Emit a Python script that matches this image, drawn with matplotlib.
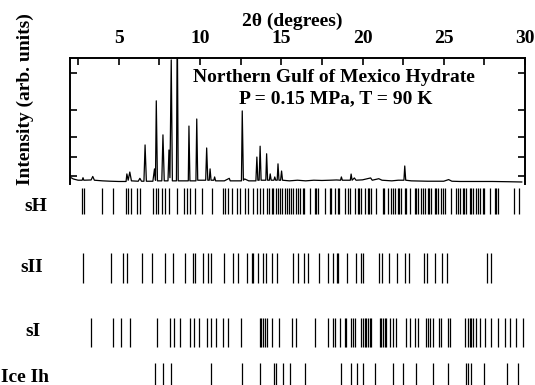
import matplotlib
matplotlib.use("Agg")
import matplotlib.pyplot as plt

plt.rcParams['font.family'] = ['Liberation Serif', 'DejaVu Serif']
plt.rcParams['font.weight'] = 'bold'

W, H = 535, 385

# measured pattern (2theta in degrees, intensity in arb. units)
two_theta = [2.0, 2.2, 2.5, 2.75, 2.8, 2.85, 3.3, 3.4, 3.5, 4.0, 4.5, 5.0,
             5.45, 5.5, 5.58, 5.68, 5.78, 6.2, 6.3, 6.4, 6.55, 6.62, 6.7,
             7.1, 7.2, 7.26, 7.31, 7.38, 7.65, 7.72, 7.8, 8.03, 8.09, 8.15,
             8.23, 8.3, 8.55, 8.6, 8.66, 8.9, 9.28, 9.32, 9.38, 9.75, 9.8,
             9.86, 10.35, 10.41, 10.48, 10.57, 10.62, 10.68, 10.85, 10.9,
             10.96, 11.5, 11.8, 11.86, 12.55, 12.6, 12.67, 12.75, 13.0,
             13.44, 13.5, 13.56, 13.64, 13.7, 13.76, 14.05, 14.1, 14.16,
             14.27, 14.32, 14.38, 14.55, 14.6, 14.66, 14.75, 14.8, 14.86,
             14.96, 15.02, 15.08, 15.5, 16.0, 16.5, 17.0, 17.5, 18.0, 18.4,
             18.65, 18.7, 18.76, 19.25, 19.3, 19.36, 19.5, 19.6, 20.0, 20.5,
             20.6, 21.0, 21.2, 21.8, 22.2, 22.55, 22.6, 22.66, 23.0, 24.0,
             25.0, 25.3, 25.5, 26.0, 27.0, 28.0, 29.0, 29.8]
intensity = [5.5, 4.0, 3.0, 3.0, 5.0, 3.0, 3.2, 6.0, 3.0, 2.5, 2.2, 2.0,
             2.0, 8.0, 3.0, 9.5, 2.5, 2.2, 4.5, 2.2, 2.2, 31.0, 2.2,
             2.2, 12.0, 3.0, 66.0, 2.5, 2.5, 39.0, 2.5, 2.5, 27.0, 5.0,
             98.5, 2.5, 2.5, 130.0, 2.5, 2.5, 2.5, 46.0, 2.5, 2.5, 51.6,
             3.0, 3.0, 28.6, 3.0, 3.0, 12.0, 3.0, 3.0, 5.6,
             2.5, 2.5, 4.5, 2.5, 2.5, 58.0, 3.0, 4.0, 2.5,
             2.5, 21.4, 3.0, 3.0, 30.0, 3.0, 3.0, 24.0, 3.0,
             3.0, 8.0, 3.0, 3.0, 5.6, 3.0, 3.0, 16.0, 3.0,
             3.0, 10.3, 3.0, 2.5, 3.0, 2.5, 3.0, 2.8, 3.0, 3.2,
             3.0, 5.6, 3.0, 3.0, 7.9, 3.0, 4.8, 3.0, 3.3, 4.8,
             3.0, 4.2, 3.0, 2.5, 3.0, 3.0, 14.3, 3.0, 2.5, 2.2,
             2.2, 3.5, 2.2, 2.0, 2.0, 2.0, 1.8, 1.6]
y_ticks = [6.3, 21.4, 37.3, 58.7, 88.1]

# calculated reflection positions (2theta) for each phase
sH_pos = [2.72, 2.86, 3.95, 4.67, 5.45, 5.59, 5.75, 6.1, 6.31, 7.12, 7.29,
          7.43, 7.64, 7.85, 8.11, 8.57, 9.02, 9.18, 9.38, 9.69, 10.1, 10.72,
          11.4, 11.54, 11.74, 11.95, 12.26, 12.46, 12.77, 12.97, 13.28,
          13.49, 13.69, 13.89, 14.1, 14.25, 14.4, 14.5, 14.65, 14.8, 14.9,
          15.05, 15.2, 15.35, 15.5, 15.6, 15.75, 15.9, 16.0, 16.15, 16.34,
          16.42, 16.75, 17.06, 17.14, 17.26, 17.67, 17.98, 18.06, 18.29,
          18.49, 18.58, 18.9, 19.11, 19.2, 19.52, 19.72, 19.8, 19.93, 20.13,
          20.34, 20.42, 20.54, 20.85, 21.26, 21.35, 21.57, 21.77, 21.86,
          21.98, 22.18, 22.27, 22.39, 22.6, 22.68, 22.9, 23.21, 23.3, 23.42,
          23.62, 23.7, 23.83, 24.03, 24.12, 24.24, 24.44, 24.52, 24.65,
          24.85, 24.93, 25.06, 25.47, 25.77, 25.86, 25.98, 26.18, 26.27,
          26.39, 26.6, 26.68, 26.8, 27.0, 27.08, 27.21, 27.42, 27.5, 27.83,
          28.13, 28.22, 28.34, 29.3, 29.6]
sII_pos = [2.78, 4.52, 5.28, 5.53, 6.41, 7.03, 7.85, 8.36, 9.08, 9.55, 9.69,
           10.17, 10.51, 10.66, 11.48, 12.01, 12.36, 12.91, 13.18, 13.28,
           13.59, 13.9, 14.04, 14.41, 14.76, 15.74, 16.05, 16.4, 16.66,
           17.34, 17.9, 18.2, 18.45, 18.51, 19.06, 19.6, 19.91, 20.05, 21.0,
           21.18, 21.65, 22.1, 22.62, 22.88, 23.78, 23.98, 24.46, 24.87,
           25.22, 27.68, 27.89]
sI_pos = [3.27, 4.65, 5.16, 5.67, 7.37, 8.13, 8.4, 8.75, 9.37, 9.63, 9.92,
          10.45, 10.7, 11.0, 11.42, 11.72, 12.54, 13.67, 13.77, 13.88, 13.98,
          14.14, 14.43, 14.84, 15.66, 15.93, 17.06, 17.88, 18.18, 18.29,
          18.6, 18.9, 19.0, 19.27, 19.42, 19.56, 19.93, 20.03, 20.13, 20.23,
          20.34, 20.44, 20.54, 21.1, 21.16, 21.26, 21.37, 21.46, 21.67,
          21.88, 22.08, 22.7, 22.9, 23.21, 23.42, 23.93, 24.03, 24.14,
          24.34, 24.69, 24.85, 25.26, 25.37, 26.29, 26.49, 26.6, 26.7, 26.8,
          27.0, 27.21, 27.52, 27.93, 28.34, 28.75, 29.06, 29.47, 29.88]
ice_pos = [7.25, 7.72, 8.24, 10.66, 12.6, 13.67, 14.55, 14.7, 15.11, 15.52,
           16.48, 18.7, 19.27, 19.68, 20.03, 20.75, 21.88, 22.49, 23.31,
           24.34, 25.26, 26.39, 26.49, 26.7, 27.48, 28.91, 29.57]
phase_names = ['sH', 'sII', 'sI', 'Ice Ih']


def box(x0, y0, x1, y1):
    # pixel box (from top-left) -> figure rect
    return [x0 / W, 1 - y1 / H, (x1 - x0) / W, (y1 - y0) / H]


fig = plt.figure(figsize=(W / 100, H / 100), dpi=100)

# diffraction pattern
ax = fig.add_axes(box(70, 58, 525, 184))
ax.plot(two_theta, intensity, color='black', lw=0.9)
ax.set_xlim(2, 30)
ax.set_ylim(0, 100)
ax.xaxis.tick_top()
ax.set_xticks([5, 10, 15, 20, 25, 30])
ax.set_xticks([2.5, 7.5, 12.5, 17.5, 22.5, 27.5], minor=True)
ax.tick_params(axis='x', which='both', direction='in', length=5, width=1.2,
               top=True, bottom=False, labelsize=14, pad=8)
ax.set_yticks(y_ticks)
ax.tick_params(axis='y', direction='in', left=True, right=True,
               labelleft=False, length=5, width=1.2)
ax.spines['bottom'].set_visible(False)
for s in ['top', 'left', 'right']:
    ax.spines[s].set_linewidth(1.4)

fig.text(292 / W, 1 - 25.5 / H, '2θ (degrees)', ha='center', va='baseline',
         fontsize=14)
fig.text(25 / W, 1 - 99 / H, 'Intensity (arb. units)', ha='center',
         va='center', rotation=90, fontsize=14)
fig.text(334 / W, 1 - 82 / H, 'Northern Gulf of Mexico Hydrate',
         ha='center', va='baseline', fontsize=14)
fig.text(336 / W, 1 - 103 / H, 'P = 0.15 MPa, T = 90 K',
         ha='center', va='baseline', fontsize=14)

# reflection markers
ax2 = fig.add_axes(box(70, 186, 525, 385))
ax2.set_xlim(2, 30)
ax2.set_ylim(385, 186)
ax2.axis('off')
rows = [(188, 214), (253, 283), (318, 347), (363, 392)]
for pos, (y0, y1) in zip([sH_pos, sII_pos, sI_pos, ice_pos], rows):
    ax2.vlines(pos, y0, y1, color='black', lw=0.9)

label_xy = [(36, 207), (32, 268), (33, 331), (49, 378)]
for name, (lx, ly) in zip(phase_names, label_xy):
    ha = 'right' if name == 'Ice Ih' else 'center'
    fig.text(lx / W, 1 - ly / H, name, ha=ha, va='center', fontsize=14)

fig.savefig('out.png', dpi=100)
